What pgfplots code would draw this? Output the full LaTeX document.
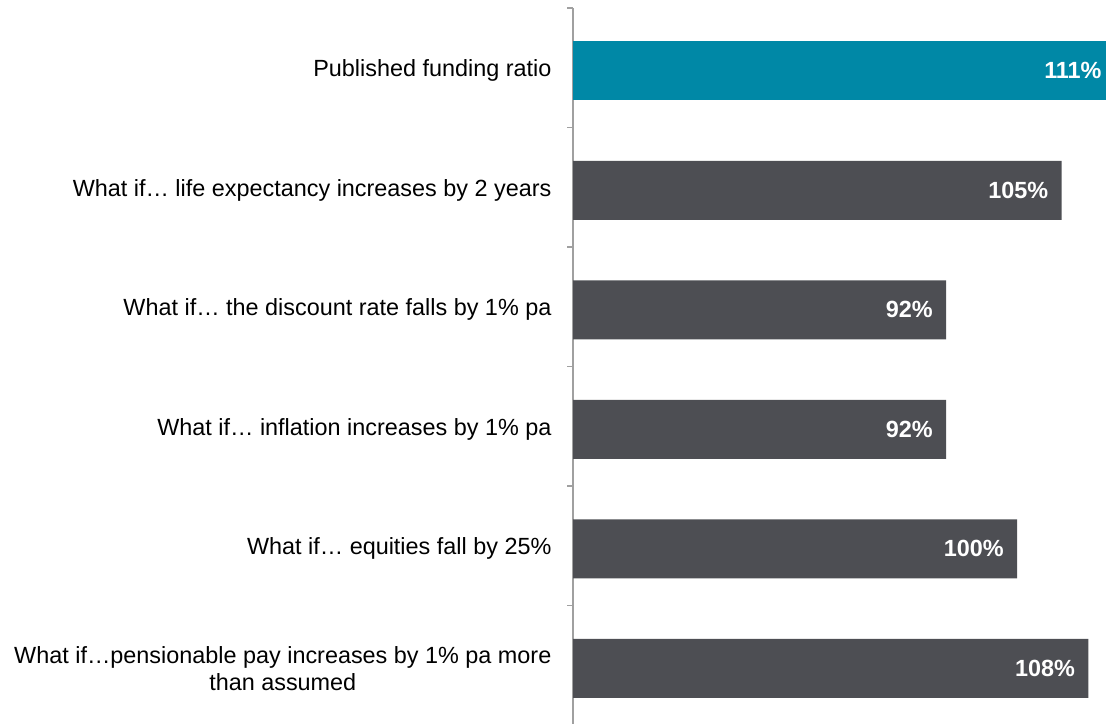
\documentclass[border=0pt]{standalone}
\usepackage{pgfplots}
\pgfplotsset{compat=1.18}
\usepackage{fontspec}
\setmainfont{Liberation Sans}
\definecolor{teal}{HTML}{0088A6}
\definecolor{dgray}{HTML}{4D4E53}
\definecolor{axgray}{HTML}{A0A0A0}
\begin{document}
\begin{tikzpicture}
\useasboundingbox (0,0) rectangle (553pt,361.5pt);
\begin{axis}[
  at={(286.5pt,-1pt)}, anchor=south west,
  scale only axis, width=275.4pt, height=358.5pt,
  xmin=50, xmax=112,
  ymin=-0.5, ymax=5.5, y dir=reverse,
  axis x line=none,
  axis y line=left,
  y axis line style={-, draw=axgray, line width=0.6pt},
  ytick={0,1,2,3,4,5},
  yticklabels={Published funding ratio,
    What if\dots\ life expectancy increases by 2 years,
    What if\dots\ the discount rate falls by 1\% pa,
    What if\dots\ inflation increases by 1\% pa,
    What if\dots\ equities fall by 25\%,
    {What if\dots pensionable pay increases by 1\% pa more\\than assumed}},
  yticklabel style={align=center, font=\fontsize{11.7pt}{13.5pt}\selectfont, text=black, yshift=-1.5pt},
  major y tick style={draw=none},
  minor ytick={-0.5,0.5,1.5,2.5,3.5,4.5,5.5},
  minor tick length=3pt,
  tick align=outside,
  minor y tick style={draw=axgray, line width=0.6pt},
  y tick label style={xshift=-3pt},
  /pgf/number format/assume math mode=true,
  xbar, bar width=29.5pt, bar shift=-1.5pt,
  nodes near coords={\pgfmathprintnumber\pgfplotspointmeta\%},
  nodes near coords align={anchor=east},
  every node near coord/.append style={font=\bfseries\fontsize{11.7pt}{13pt}\selectfont, text=white, inner sep=0pt, xshift=-6.5pt},
]
\addplot[fill=teal, draw=none] coordinates {(111,0)};
\addplot[fill=dgray, draw=none] coordinates {(105,1) (92,2) (92,3) (100,4) (108,5)};
\end{axis}
\end{tikzpicture}
\end{document}
